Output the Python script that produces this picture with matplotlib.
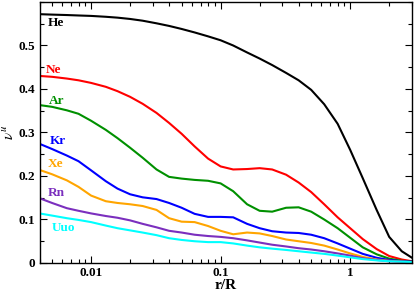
import matplotlib
matplotlib.use("Agg")
import matplotlib.pyplot as plt
from matplotlib.ticker import FixedLocator, FuncFormatter, MultipleLocator, LogLocator, NullFormatter

plt.rcParams['font.family'] = ['Liberation Serif', 'DejaVu Serif']
plt.rcParams['mathtext.fontset'] = 'stix'

# r/R sample points (log spaced)
r = [0.004, 0.005, 0.0065, 0.008, 0.01, 0.013, 0.016, 0.02, 0.025, 0.032,
     0.04, 0.05, 0.063, 0.08, 0.1, 0.125, 0.16, 0.2, 0.25, 0.32,
     0.4, 0.5, 0.63, 0.8, 1.0, 1.25, 1.6, 2.0, 2.5, 3.0]

he = [0.572, 0.571, 0.570, 0.569, 0.568, 0.566, 0.564, 0.561, 0.557, 0.551,
      0.545, 0.538, 0.530, 0.521, 0.512, 0.500, 0.484, 0.470, 0.455, 0.437,
      0.420, 0.398, 0.365, 0.320, 0.260, 0.195, 0.122, 0.060, 0.027, 0.012]
ne = [0.430, 0.428, 0.424, 0.420, 0.414, 0.405, 0.395, 0.382, 0.366, 0.345,
      0.322, 0.297, 0.268, 0.240, 0.222, 0.215, 0.216, 0.218, 0.215, 0.203,
      0.185, 0.163, 0.135, 0.105, 0.080, 0.055, 0.032, 0.016, 0.008, 0.004]
ar = [0.363, 0.359, 0.351, 0.343, 0.327, 0.306, 0.287, 0.265, 0.242, 0.215,
      0.198, 0.194, 0.191, 0.189, 0.183, 0.165, 0.135, 0.120, 0.118, 0.127,
      0.128, 0.118, 0.100, 0.080, 0.058, 0.036, 0.020, 0.010, 0.005, 0.003]
kr = [0.274, 0.262, 0.247, 0.234, 0.213, 0.188, 0.171, 0.158, 0.151, 0.147,
      0.138, 0.127, 0.113, 0.106, 0.106, 0.105, 0.090, 0.080, 0.073, 0.070,
      0.069, 0.065, 0.057, 0.045, 0.033, 0.021, 0.012, 0.007, 0.004, 0.003]
xe = [0.214, 0.204, 0.190, 0.175, 0.155, 0.142, 0.138, 0.135, 0.131, 0.122,
      0.103, 0.095, 0.094, 0.085, 0.074, 0.066, 0.070, 0.068, 0.062, 0.054,
      0.050, 0.046, 0.040, 0.031, 0.022, 0.014, 0.008, 0.005, 0.003, 0.002]
rn = [0.149, 0.138, 0.126, 0.120, 0.114, 0.108, 0.104, 0.098, 0.090, 0.082,
      0.074, 0.070, 0.065, 0.062, 0.060, 0.057, 0.052, 0.047, 0.042, 0.038,
      0.034, 0.031, 0.027, 0.022, 0.017, 0.011, 0.007, 0.004, 0.003, 0.002]
uuo = [0.114, 0.109, 0.103, 0.099, 0.094, 0.086, 0.080, 0.075, 0.070, 0.064,
       0.057, 0.053, 0.050, 0.048, 0.048, 0.045, 0.040, 0.036, 0.033, 0.030,
       0.027, 0.024, 0.021, 0.017, 0.013, 0.009, 0.006, 0.004, 0.003, 0.002]

names = ['He', 'Ne', 'Ar', 'Kr', 'Xe', 'Rn', 'Uuo']
series = [he, ne, ar, kr, xe, rn, uuo]
colors = ['black', 'red', '#009000', '#0000ff', '#ffa500', '#7b2fbe', '#00ffff']
# label anchor points (r/R, value)
label_x = [0.0046, 0.0045, 0.0047, 0.0048, 0.0046, 0.0046, 0.0050]
label_y = [0.552, 0.444, 0.372, 0.280, 0.228, 0.161, 0.080]

fig = plt.figure(figsize=(4.15, 2.93), dpi=100)
ax = fig.add_axes([0.0952, 0.1024, 0.8976, 0.8908])

for name, vals, c, lx, ly in zip(names, series, colors, label_x, label_y):
    ax.plot(r, vals, color=c, lw=1.5)
    ax.text(lx, ly, name, color=c, fontsize=9.5, fontweight='bold',
            ha='left', va='center')

ax.set_xscale('log')
ax.set_xlim(0.004, 3.0)
ax.set_ylim(0, 0.6)

ax.xaxis.set_major_locator(FixedLocator([0.01, 0.1, 1]))
ax.xaxis.set_major_formatter(FuncFormatter(lambda v, p: {0.01: '0.01', 0.1: '0.1', 1: '1'}.get(round(v, 3), '')))
ax.xaxis.set_minor_locator(LogLocator(base=10, subs=range(2, 10)))
ax.xaxis.set_minor_formatter(NullFormatter())

ax.yaxis.set_major_locator(FixedLocator([0, 0.1, 0.2, 0.3, 0.4, 0.5]))
ax.yaxis.set_major_formatter(FuncFormatter(lambda v, p: '0' if v == 0 else f'{v:.1f}'))
ax.yaxis.set_minor_locator(MultipleLocator(0.05))

ax.tick_params(which='both', direction='in', top=True, right=True, width=0.8)
ax.tick_params(which='major', length=5, labelsize=9.5, pad=3)
ax.tick_params(which='minor', length=3)
for lab in ax.get_xticklabels() + ax.get_yticklabels():
    lab.set_fontweight('bold')

for s in ax.spines.values():
    s.set_linewidth(1.0)

ax.set_xlabel('r/R', fontsize=11, fontweight='bold', labelpad=0)
ax.set_ylabel(r'$\nu^{u}$', fontsize=11, labelpad=1)

fig.savefig('out.png', dpi=100)
